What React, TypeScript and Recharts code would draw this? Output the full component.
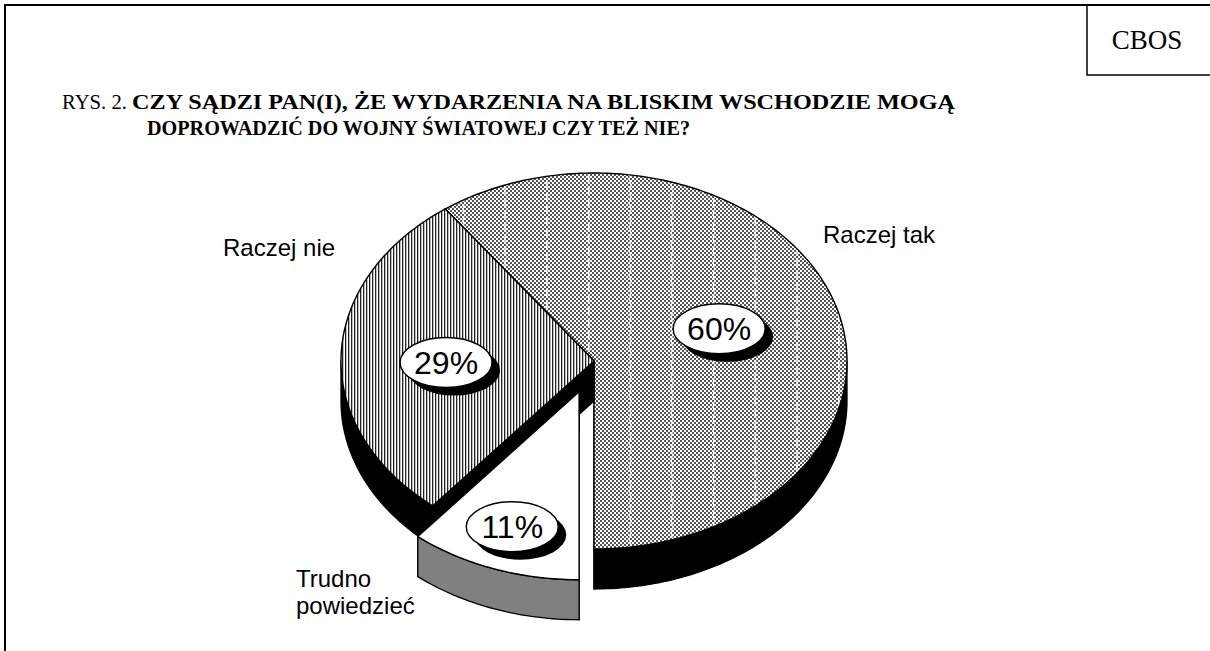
import React from "react";
import { PieChart, Pie } from "recharts";

// --- data ---
const CATEGORIES = ["Raczej tak", "Raczej nie", "Trudno powiedzieć"];
const VALUES = [60, 29, 11];
const PERCENT_LABELS = ["60%", "29%", "11%"];

const TITLE_LEAD = "RYS. 2.";
const TITLE_LINE1 = "CZY SĄDZI PAN(I), ŻE WYDARZENIA NA BLISKIM WSCHODZIE MOGĄ";
const TITLE_LINE2 = "DOPROWADZIĆ DO WOJNY ŚWIATOWEJ CZY TEŻ NIE?";
const SOURCE = "CBOS";

const data = CATEGORIES.map((name, i) => ({ name, value: VALUES[i], pct: PERCENT_LABELS[i] }));

// --- look ---
const W = 1210;
const H = 651;
const CX = 594;
const CY = 361;
const RX = 253;
const TILT = 0.743; // ry / rx of the flattened disc
const DEPTH = 40;
const RAD = Math.PI / 180;

const TOPS = ["url(#pTak)", "url(#pNie)", "#ffffff"];
const OVERLAYS = ["url(#pTakLines)", null, null];
const SIDES = ["#000000", "#000000", "#808080"];
const EXPLODE = [0, 0, 44];
const PCT_R = [0.52, 0.585, 0.78];
const PCT_DY = [-2, 5, -3];
const NAME_POS = [
  { dx: 229, dy: -118 },
  { dx: -371, dy: -105 },
  { dx: -298, dy: 226 },
];

const sans = "'Liberation Sans', Arial, sans-serif";
const serif = "'Liberation Serif', 'Times New Roman', serif";

type P = [number, number];

const pt = (cx: number, cy: number, r: number, a: number, dy = 0): P => [
  cx + r * Math.cos(a * RAD),
  cy - TILT * r * Math.sin(a * RAD) + dy,
];

function arc(cx: number, cy: number, r: number, a0: number, a1: number, dy = 0): P[] {
  const n = Math.max(2, Math.ceil(Math.abs(a1 - a0)));
  const out: P[] = [];
  for (let i = 0; i <= n; i++) out.push(pt(cx, cy, r, a0 + ((a1 - a0) * i) / n, dy));
  return out;
}

const toPath = (pts: P[]) => "M" + pts.map((p) => `${p[0].toFixed(2)},${p[1].toFixed(2)}`).join("L") + "Z";

// parts of [a0,a1] that lie on the front half of the disc
function frontRanges(a0: number, a1: number) {
  const res: [number, number][] = [];
  for (const [lo, hi] of [[-180, 0], [180, 360]]) {
    const s = Math.max(a0, lo);
    const e = Math.min(a1, hi);
    if (e > s) res.push([s, e]);
  }
  return res;
}

function offsetFor(i: number, mid: number): P {
  return [EXPLODE[i] * Math.cos(mid * RAD), -EXPLODE[i] * TILT * Math.sin(mid * RAD)];
}

function Slice3D(props: any) {
  const { cx, cy, outerRadius, startAngle, endAngle, payload } = props;
  const i = CATEGORIES.indexOf(payload?.name ?? props.name);
  const mid = (startAngle + endAngle) / 2;
  const [ox, oy] = offsetFor(i, mid);
  const x0 = cx + ox;
  const y0 = cy + oy;
  const r = outerRadius;

  const walls = [startAngle, endAngle].map((a: number) => {
    const p = pt(x0, y0, r, a);
    return toPath([[x0, y0], p, [p[0], p[1] + DEPTH], [x0, y0 + DEPTH]]);
  });
  const outer = frontRanges(startAngle, endAngle).map(([s, e]) =>
    toPath([...arc(x0, y0, r, s, e), ...arc(x0, y0, r, e, s, DEPTH)])
  );
  const top = toPath([[x0, y0], ...arc(x0, y0, r, startAngle, endAngle)]);

  return (
    <g>
      {walls.map((d, k) => (
        <path key={`w${k}`} d={d} fill={SIDES[i]} stroke="#000" strokeWidth={1.3} strokeLinejoin="round" />
      ))}
      {outer.map((d, k) => (
        <path key={`o${k}`} d={d} fill={SIDES[i]} stroke="#000" strokeWidth={1.3} strokeLinejoin="round" />
      ))}
      <path d={top} fill={TOPS[i]} stroke="none" />
      {OVERLAYS[i] && <path d={top} fill={OVERLAYS[i] as string} stroke="none" />}
      <path d={top} fill="none" stroke="#000" strokeWidth={1.4} strokeLinejoin="round" />
    </g>
  );
}

function SliceLabel(props: any) {
  const { cx, cy, outerRadius, midAngle, payload } = props;
  const i = CATEGORIES.indexOf(payload?.name ?? props.name);
  const [ox, oy] = offsetFor(i, midAngle);
  const [lx, ly0] = pt(cx + ox, cy + oy, outerRadius * PCT_R[i], midAngle);
  const ly = ly0 + PCT_DY[i];
  const lines = i === 2 ? payload.name.split(" ") : [payload.name];
  const np = NAME_POS[i];
  return (
    <g>
      <ellipse cx={lx + 8} cy={ly + 8} rx={46} ry={25} fill="#000" />
      <ellipse cx={lx} cy={ly} rx={46} ry={25} fill="#fff" stroke="#000" strokeWidth={1.4} />
      <text x={lx} y={ly + 11} textAnchor="middle" fontFamily={sans} fontSize={32} fill="#000">
        {payload.pct}
      </text>
      <text x={cx + np.dx} y={cy + np.dy} fontFamily={sans} fontSize={24} fill="#000">
        {lines.map((t: string, k: number) => (
          <tspan key={k} x={cx + np.dx} dy={k === 0 ? 0 : 27}>
            {t}
          </tspan>
        ))}
      </text>
    </g>
  );
}

export default function App() {
  return (
    <div style={{ position: "absolute", left: 0, top: 0, width: W, height: H, background: "#fff", overflow: "hidden" }}>
      <svg width={W} height={H} style={{ position: "absolute", left: 0, top: 0 }}>
        <defs>
          <pattern id="pTak" width={4} height={4} patternUnits="userSpaceOnUse">
            <rect width={4} height={4} fill="#ffffff" />
            <rect x={0} y={0} width={2} height={2} fill="#555555" />
            <rect x={2} y={2} width={2} height={2} fill="#555555" />
          </pattern>
          <pattern id="pTakLines" width={41.7} height={6} patternUnits="userSpaceOnUse" x={4}>
            <rect x={0} y={0} width={1.5} height={4} fill="#ffffff" />
          </pattern>
          <pattern id="pNie" width={3} height={3} patternUnits="userSpaceOnUse">
            <rect width={3} height={3} fill="#ffffff" />
            <rect x={0} y={0} width={1.3} height={3} fill="#222222" />
          </pattern>
        </defs>
        {/* page frame */}
        <path d={`M5,${H} V5 H${W}`} fill="none" stroke="#000" strokeWidth={2} />
        <path d={`M1087,5 V75 H${W}`} fill="none" stroke="#000" strokeWidth={1.5} />
        <text x={1147} y={49} textAnchor="middle" fontFamily={serif} fontSize={27}>
          {SOURCE}
        </text>
        {/* title */}
        <text x={62} y={109} fontFamily={serif} fontSize={21} textLength={65} lengthAdjust="spacingAndGlyphs">
          {TITLE_LEAD}
        </text>
        <text x={132} y={109} fontFamily={serif} fontSize={21} fontWeight="bold" textLength={823} lengthAdjust="spacingAndGlyphs">
          {TITLE_LINE1}
        </text>
        <text x={147} y={135} fontFamily={serif} fontSize={21} fontWeight="bold" textLength={543} lengthAdjust="spacingAndGlyphs">
          {TITLE_LINE2}
        </text>
      </svg>
      <div style={{ position: "absolute", left: 0, top: 0 }}>
        <PieChart width={W} height={H} margin={{ top: 0, right: 0, bottom: 0, left: 0 }}>
          <Pie
            data={data}
            dataKey="value"
            nameKey="name"
            cx={CX}
            cy={CY}
            outerRadius={RX}
            startAngle={-90}
            endAngle={270}
            shape={Slice3D}
            label={SliceLabel}
            labelLine={false}
            isAnimationActive={false}
          />
        </PieChart>
      </div>
    </div>
  );
}
